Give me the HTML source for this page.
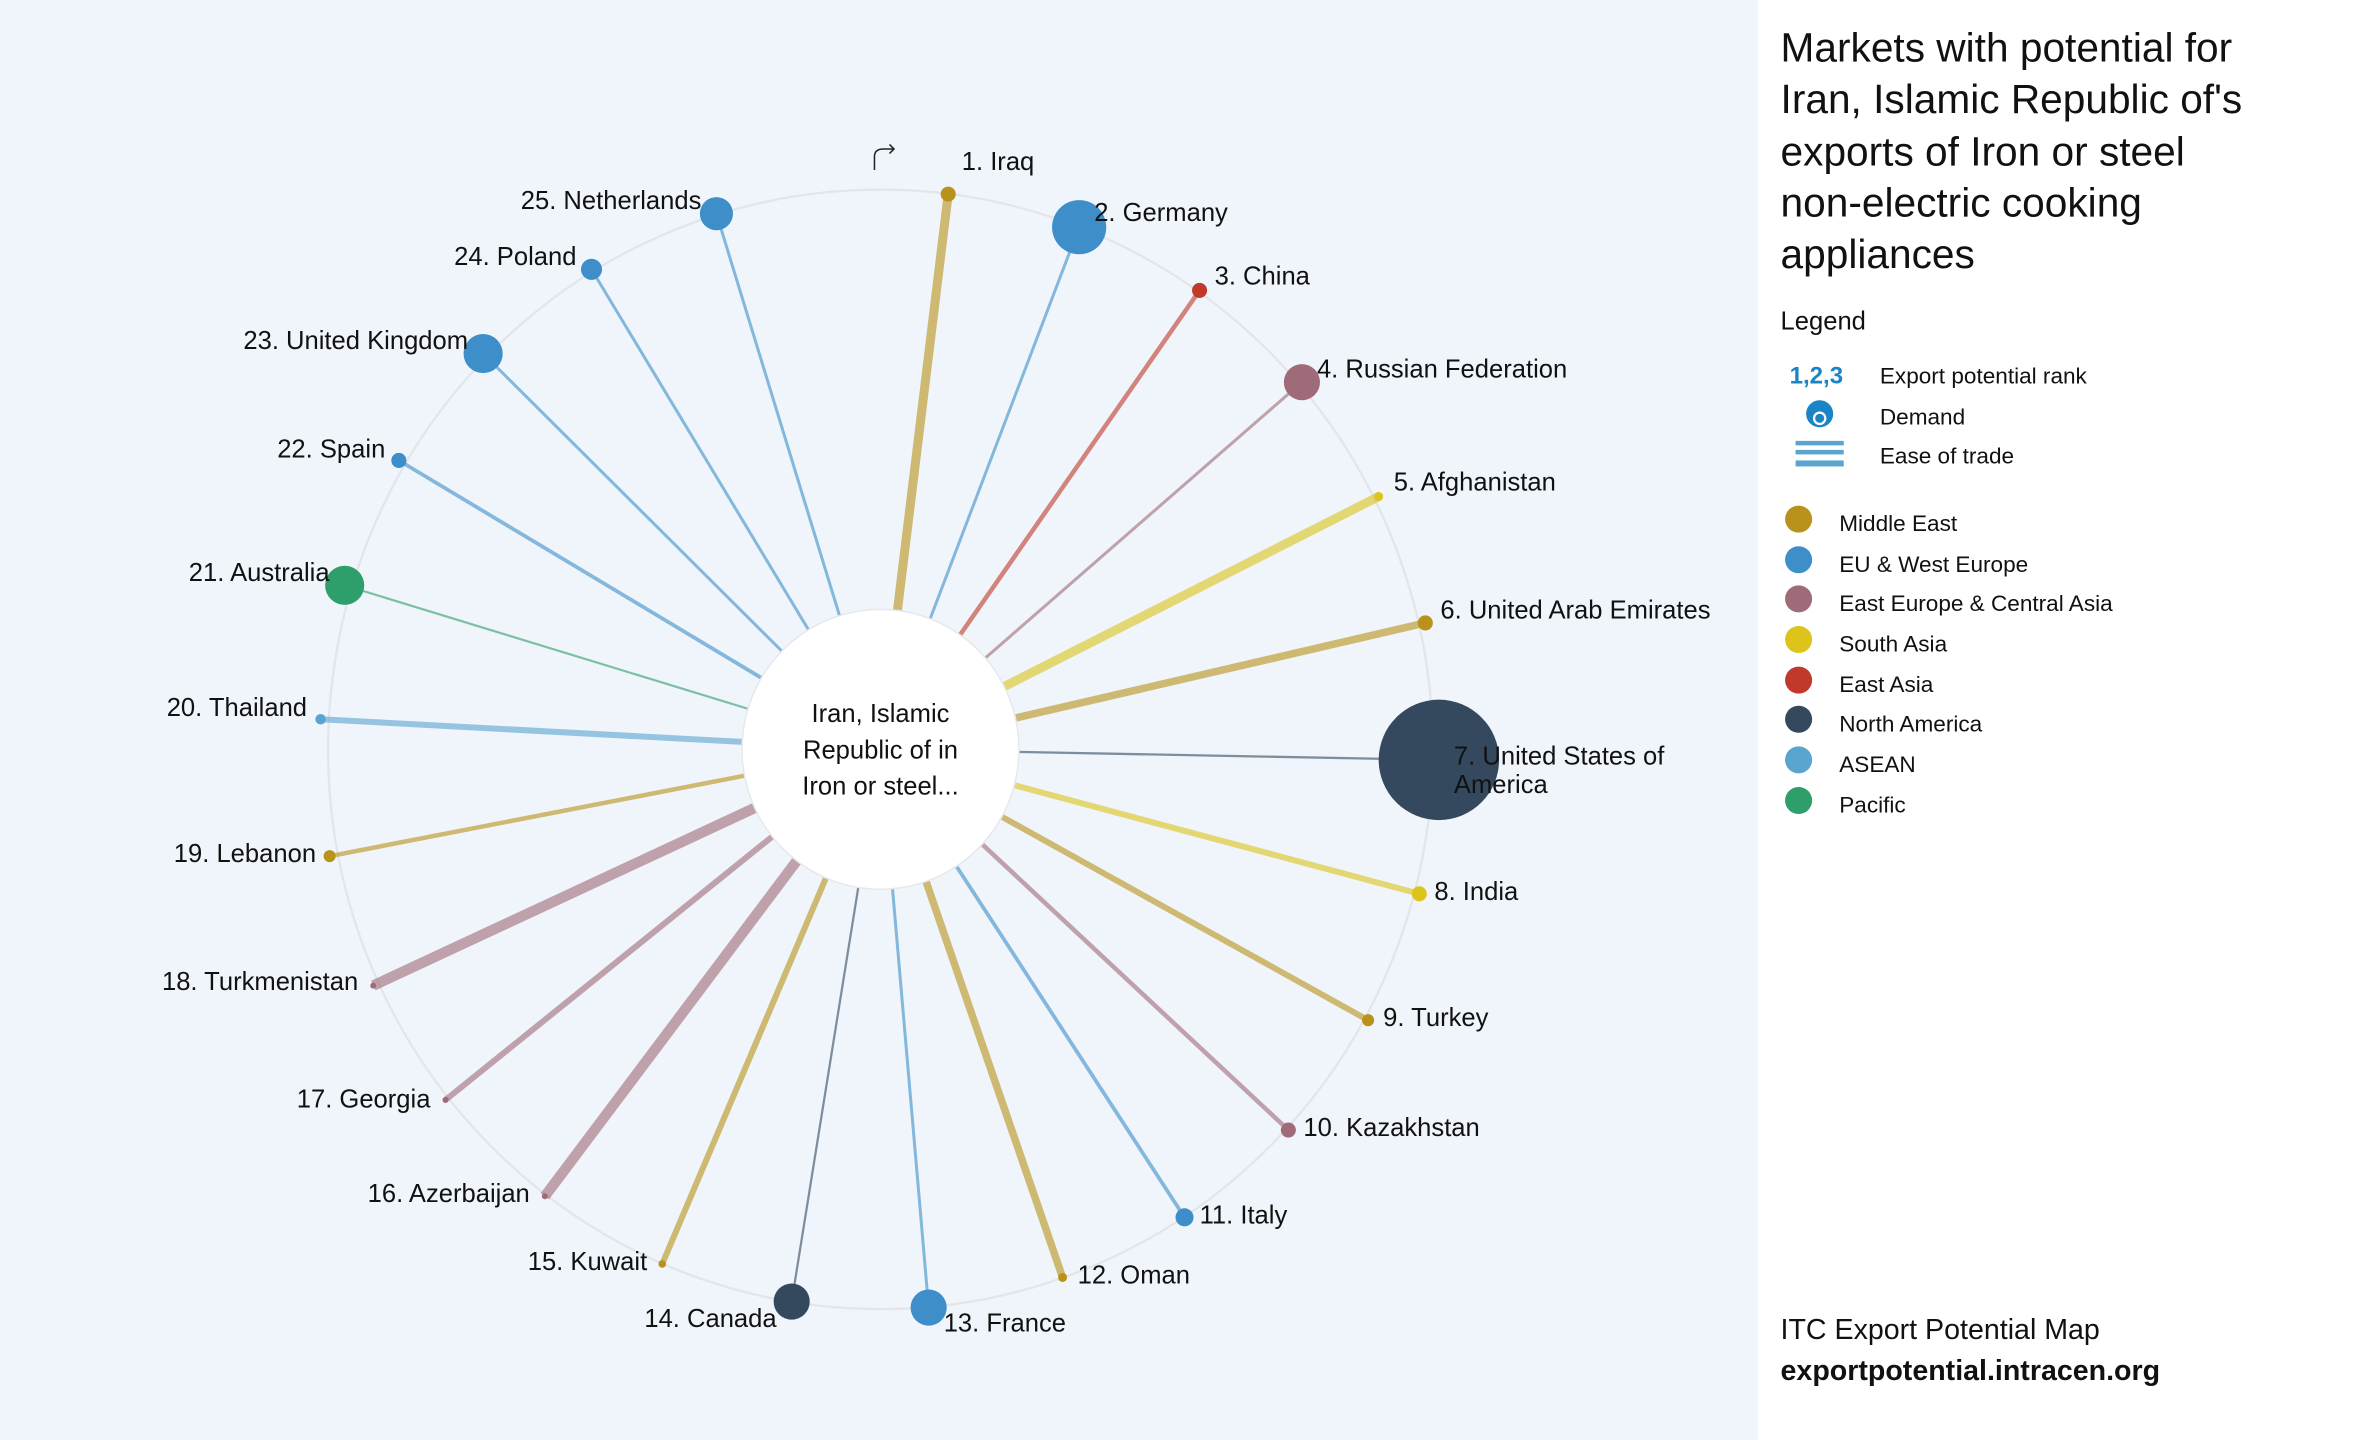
<!DOCTYPE html>
<html><head><meta charset="utf-8"><style>
html,body{margin:0;padding:0;width:2360px;height:1440px;overflow:hidden;background:#fff}
svg{display:block}
text{font-family:"Liberation Sans",sans-serif;}
</style></head><body>
<svg width="2360" height="1440" viewBox="0 0 1568 957" preserveAspectRatio="none">
<rect x="0" y="0" width="1168" height="957" fill="#f0f5fb"/>
<rect x="1168" y="0" width="400" height="957" fill="#fff"/>
<ellipse cx="585" cy="498" rx="367" ry="372" fill="none" stroke="#e3e5e8" stroke-width="1.5"/>
<g stroke-linecap="butt" opacity="0.6">
<line x1="585" y1="498" x2="630" y2="129" stroke="#b8921a" stroke-width="6"/>
<line x1="585" y1="498" x2="717" y2="151" stroke="#3d8ec9" stroke-width="2"/>
<line x1="585" y1="498" x2="797" y2="193" stroke="#c0392b" stroke-width="3"/>
<line x1="585" y1="498" x2="865" y2="254" stroke="#a06b78" stroke-width="2"/>
<line x1="585" y1="498" x2="916" y2="330" stroke="#dcc41a" stroke-width="6"/>
<line x1="585" y1="498" x2="947" y2="414" stroke="#b8921a" stroke-width="5"/>
<line x1="585" y1="498" x2="956" y2="505" stroke="#34495e" stroke-width="1.5"/>
<line x1="585" y1="498" x2="943" y2="594" stroke="#dcc41a" stroke-width="4"/>
<line x1="585" y1="498" x2="909" y2="678" stroke="#b8921a" stroke-width="4"/>
<line x1="585" y1="498" x2="856" y2="751" stroke="#a06b78" stroke-width="3"/>
<line x1="585" y1="498" x2="787" y2="809" stroke="#3d8ec9" stroke-width="2.5"/>
<line x1="585" y1="498" x2="706" y2="849" stroke="#b8921a" stroke-width="5"/>
<line x1="585" y1="498" x2="617" y2="869" stroke="#3d8ec9" stroke-width="2"/>
<line x1="585" y1="498" x2="526" y2="865" stroke="#34495e" stroke-width="1.5"/>
<line x1="585" y1="498" x2="440" y2="840" stroke="#b8921a" stroke-width="4"/>
<line x1="585" y1="498" x2="362" y2="795" stroke="#a06b78" stroke-width="7"/>
<line x1="585" y1="498" x2="296" y2="731" stroke="#a06b78" stroke-width="4"/>
<line x1="585" y1="498" x2="248" y2="655" stroke="#a06b78" stroke-width="7"/>
<line x1="585" y1="498" x2="219" y2="569" stroke="#b8921a" stroke-width="3"/>
<line x1="585" y1="498" x2="213" y2="478" stroke="#5aa5d0" stroke-width="4"/>
<line x1="585" y1="498" x2="229" y2="389" stroke="#2e9e6b" stroke-width="1.5"/>
<line x1="585" y1="498" x2="265" y2="306" stroke="#3d8ec9" stroke-width="2.5"/>
<line x1="585" y1="498" x2="321" y2="235" stroke="#3d8ec9" stroke-width="2"/>
<line x1="585" y1="498" x2="393" y2="179" stroke="#3d8ec9" stroke-width="2"/>
<line x1="585" y1="498" x2="476" y2="142" stroke="#3d8ec9" stroke-width="2"/>
</g>
<ellipse cx="585" cy="498" rx="92" ry="93" fill="#fff" stroke="#e6e8ea" stroke-width="1"/>
<text x="585" y="480" font-size="17" text-anchor="middle" fill="#111">Iran, Islamic</text>
<text x="585" y="504" font-size="17" text-anchor="middle" fill="#111">Republic of in</text>
<text x="585" y="528" font-size="17" text-anchor="middle" fill="#111">Iron or steel...</text>
<g>
<circle cx="630" cy="129" r="5" fill="#b8921a"/>
<circle cx="717" cy="151" r="18" fill="#3d8ec9"/>
<circle cx="797" cy="193" r="5" fill="#c0392b"/>
<circle cx="865" cy="254" r="12" fill="#a06b78"/>
<circle cx="916" cy="330" r="3" fill="#dcc41a"/>
<circle cx="947" cy="414" r="5" fill="#b8921a"/>
<circle cx="956" cy="505" r="40" fill="#34495e"/>
<circle cx="943" cy="594" r="5" fill="#dcc41a"/>
<circle cx="909" cy="678" r="4" fill="#b8921a"/>
<circle cx="856" cy="751" r="5" fill="#a06b78"/>
<circle cx="787" cy="809" r="6" fill="#3d8ec9"/>
<circle cx="706" cy="849" r="3" fill="#b8921a"/>
<circle cx="617" cy="869" r="12" fill="#3d8ec9"/>
<circle cx="526" cy="865" r="12" fill="#34495e"/>
<circle cx="440" cy="840" r="2.5" fill="#b8921a"/>
<circle cx="362" cy="795" r="2" fill="#a06b78"/>
<circle cx="296" cy="731" r="2" fill="#a06b78"/>
<circle cx="248" cy="655" r="2" fill="#a06b78"/>
<circle cx="219" cy="569" r="4" fill="#b8921a"/>
<circle cx="213" cy="478" r="3.5" fill="#5aa5d0"/>
<circle cx="229" cy="389" r="13" fill="#2e9e6b"/>
<circle cx="265" cy="306" r="5" fill="#3d8ec9"/>
<circle cx="321" cy="235" r="13" fill="#3d8ec9"/>
<circle cx="393" cy="179" r="7" fill="#3d8ec9"/>
<circle cx="476" cy="142" r="11" fill="#3d8ec9"/>
</g>
<g font-size="17" fill="#111">
<text x="639" y="113">1. Iraq</text>
<text x="727" y="147">2. Germany</text>
<text x="807" y="189">3. China</text>
<text x="875" y="251">4. Russian Federation</text>
<text x="926" y="326">5. Afghanistan</text>
<text x="957" y="411">6. United Arab Emirates</text>
<text x="966" y="508">7. United States of</text>
<text x="966" y="527">America</text>
<text x="953" y="598">8. India</text>
<text x="919" y="682">9. Turkey</text>
<text x="866" y="755">10. Kazakhstan</text>
<text x="797" y="813">11. Italy</text>
<text x="716" y="853">12. Oman</text>
<text x="627" y="885">13. France</text>
<text x="516" y="882" text-anchor="end">14. Canada</text>
<text x="430" y="844" text-anchor="end">15. Kuwait</text>
<text x="352" y="799" text-anchor="end">16. Azerbaijan</text>
<text x="286" y="736" text-anchor="end">17. Georgia</text>
<text x="238" y="658" text-anchor="end">18. Turkmenistan</text>
<text x="210" y="573" text-anchor="end">19. Lebanon</text>
<text x="204" y="476" text-anchor="end">20. Thailand</text>
<text x="219" y="386" text-anchor="end">21. Australia</text>
<text x="256" y="304" text-anchor="end">22. Spain</text>
<text x="311" y="232" text-anchor="end">23. United Kingdom</text>
<text x="383" y="176" text-anchor="end">24. Poland</text>
<text x="466" y="139" text-anchor="end">25. Netherlands</text>
</g>
<path d="M581 113 V104 Q581 99 587 99 H594 M591 96 L594 99 L591 102" fill="none" stroke="#222" stroke-width="1"/>
<g fill="#111">
<text x="1183" y="41" font-size="27">Markets with potential for</text>
<text x="1183" y="75" font-size="27">Iran, Islamic Republic of's</text>
<text x="1183" y="110" font-size="27">exports of Iron or steel</text>
<text x="1183" y="144" font-size="27">non-electric cooking</text>
<text x="1183" y="178" font-size="27">appliances</text>
<text x="1183" y="219" font-size="17">Legend</text>
<text x="1189" y="255" font-size="16" font-weight="bold" fill="#1a84c7">1,2,3</text>
<text x="1249" y="255" font-size="15">Export potential rank</text>
<text x="1249" y="282" font-size="15">Demand</text>
<text x="1249" y="308" font-size="15">Ease of trade</text>
<circle cx="1209" cy="275" r="9" fill="#1a84c7"/>
<circle cx="1209" cy="278" r="4.5" fill="#fff"/>
<circle cx="1209" cy="278" r="3" fill="#1a84c7"/>
<rect x="1193" y="293" width="32" height="3" fill="#5aa5d0"/>
<rect x="1193" y="299" width="32" height="3" fill="#5aa5d0"/>
<rect x="1193" y="306" width="32" height="4" fill="#5aa5d0"/>
<g font-size="15">
<circle cx="1195" cy="345" r="9" fill="#b8921a"/><text x="1222" y="353">Middle East</text>
<circle cx="1195" cy="372" r="9" fill="#3d8ec9"/><text x="1222" y="380">EU &amp; West Europe</text>
<circle cx="1195" cy="398" r="9" fill="#a06b78"/><text x="1222" y="406">East Europe &amp; Central Asia</text>
<circle cx="1195" cy="425" r="9" fill="#dcc41a"/><text x="1222" y="433">South Asia</text>
<circle cx="1195" cy="452" r="9" fill="#c0392b"/><text x="1222" y="460">East Asia</text>
<circle cx="1195" cy="478" r="9" fill="#34495e"/><text x="1222" y="486">North America</text>
<circle cx="1195" cy="505" r="9" fill="#5aa5d0"/><text x="1222" y="513">ASEAN</text>
<circle cx="1195" cy="532" r="9" fill="#2e9e6b"/><text x="1222" y="540">Pacific</text>
</g>
<text x="1183" y="890" font-size="19">ITC Export Potential Map</text>
<text x="1183" y="917" font-size="19" font-weight="bold">exportpotential.intracen.org</text>
</g>
</svg>
</body></html>
